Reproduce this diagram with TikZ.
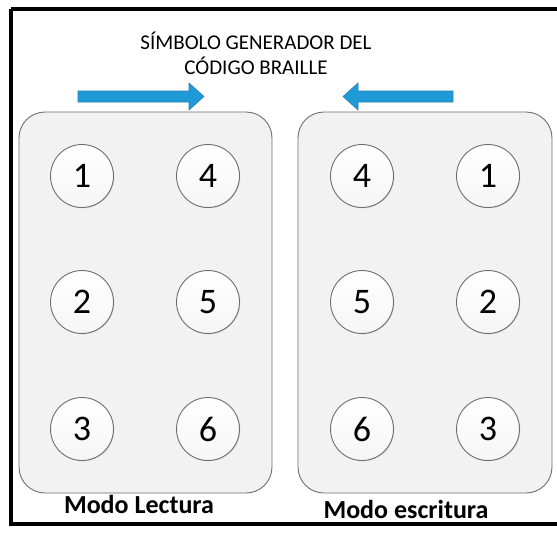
\documentclass[tikz,border=0pt]{standalone}
\usepackage{fontspec}
\setmainfont{Carlito}
\usetikzlibrary{shadows}
\definecolor{panelfill}{HTML}{F2F2F2}
\definecolor{panelline}{HTML}{6F6F6F}
\definecolor{arrowfill}{HTML}{1E9BD7}
\definecolor{arrowline}{HTML}{2A7DB0}
\tikzset{
  panel/.style={draw=panelline, fill=panelfill, line width=0.9pt, rounded corners=26pt},
  dot/.style={circle, draw=panelline, line width=0.9pt, minimum size=63pt, inner sep=0pt,
    top color=white, bottom color=panelfill!70!white, font=\fontsize{36}{36}\selectfont,
    drop shadow={shadow xshift=0.8pt, shadow yshift=-0.8pt, opacity=0.25}},
  blue arrow/.style={draw=arrowline, fill=arrowfill, line width=0.6pt},
  modelabel/.style={font=\bfseries\fontsize{26}{26}\selectfont, inner sep=0pt, anchor=base},
  titlelabel/.style={font=\fontsize{21}{25}\selectfont, align=center, inner sep=0pt}
}
\begin{document}
\begin{tikzpicture}[x=1pt, y=-1pt]
\useasboundingbox (0,0) rectangle (557,536);
\fill[white] (0,0) rectangle (557,536);
\begin{scope}
\clip (0,0) rectangle (557,536);
\draw[line width=3.5pt] (11,9) -- (575,9);
\draw[line width=3.5pt] (11,9) -- (11,524) -- (575,524);
\end{scope}
% title
\node[titlelabel] (title) at (256,53) {SÍMBOLO GENERADOR DEL\\CÓDIGO BRAILLE};
% arrows
\draw[blue arrow] (78,91) -- (189,91) -- (189,83) -- (204,96.5) -- (189,110) -- (189,102) -- (78,102) -- cycle;
\draw[blue arrow] (453,91) -- (358,91) -- (358,83) -- (343,96.5) -- (358,110) -- (358,102) -- (453,102) -- cycle;
% panels
\draw[panel] (19,112) rectangle (272,493);
\draw[panel] (298,112) rectangle (552,493);
% left panel dots
\node[dot] (l1) at (82,176) {1};
\node[dot] (l4) at (208,176) {4};
\node[dot] (l2) at (82,302) {2};
\node[dot] (l5) at (208,302) {5};
\node[dot] (l3) at (82,429) {3};
\node[dot] (l6) at (208,429) {6};
% right panel dots
\node[dot] (r4) at (362,176) {4};
\node[dot] (r1) at (488,176) {1};
\node[dot] (r5) at (362,302) {5};
\node[dot] (r2) at (488,302) {2};
\node[dot] (r6) at (362,429) {6};
\node[dot] (r3) at (488,429) {3};
% labels
\node[modelabel] (lect) at (139,513) {Modo Lectura};
\node[modelabel] (escr) at (406,518) {Modo escritura};
\end{tikzpicture}
\end{document}
